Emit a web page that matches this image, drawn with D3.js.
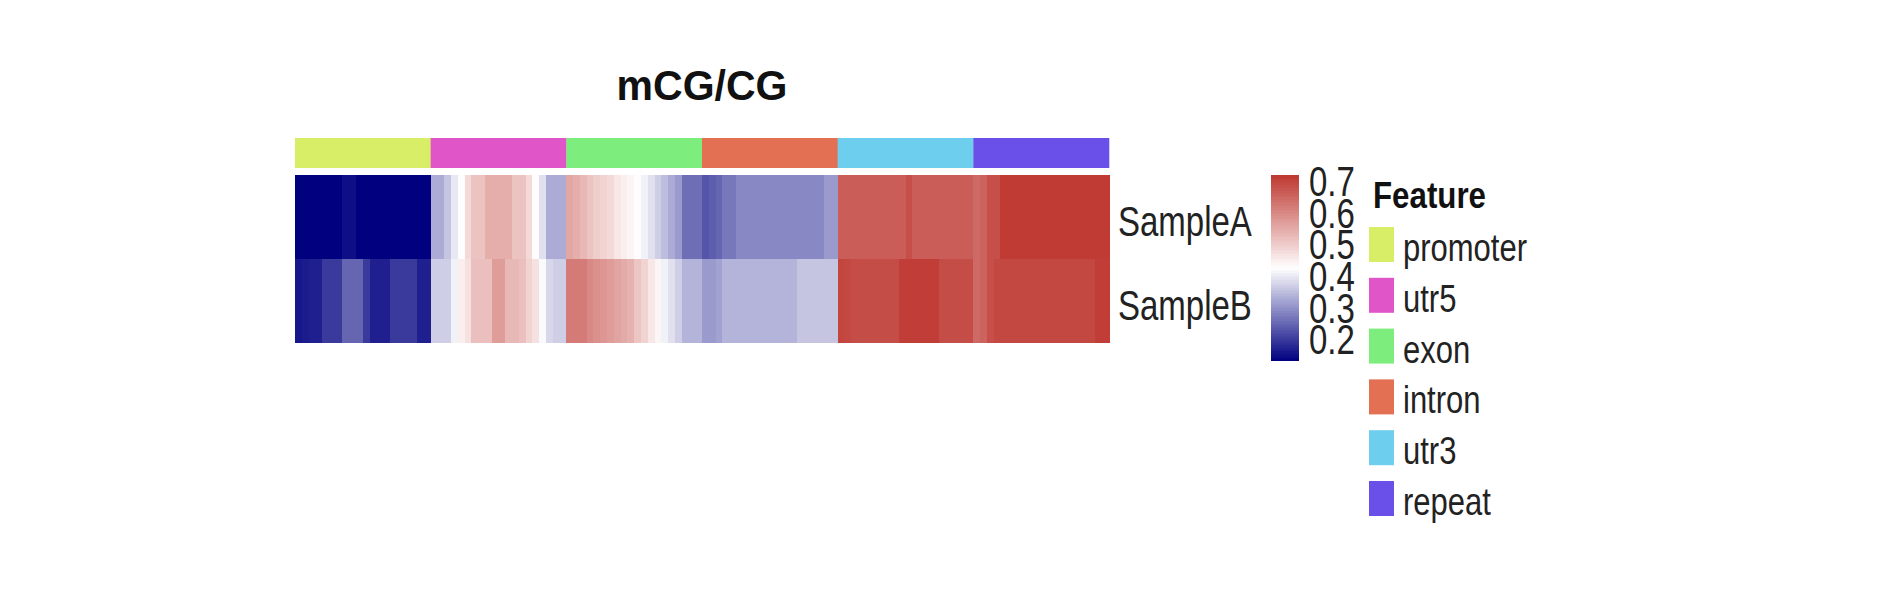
<!DOCTYPE html>
<html>
<head>
<meta charset="utf-8">
<script src="https://cdn.jsdelivr.net/npm/d3@7/dist/d3.min.js"></script>
<style>
  html, body { margin: 0; padding: 0; background: #ffffff; }
  svg { display: block; }
  text { font-family: "Liberation Sans", Arial, sans-serif; fill: #222; }
</style>
</head>
<body>
<div id="chart"></div>
<script>
// ---------------- data ----------------
const title = "mCG/CG";
const samples = ["SampleA", "SampleB"];
const features = ["promoter", "utr5", "exon", "intron", "utr3", "repeat"];
const featureColors = ["#D7EE66", "#E056C8", "#7DEE7D", "#E37052", "#6ECEEE", "#6A50E8"];
const binsPerFeature = 20;

// methylation level per bin (20 bins per feature)
const promoterA = [0.135,0.135,0.135,0.135,0.135,0.135,0.135,0.15,0.15,0.135,0.135,0.135,0.135,0.135,0.135,0.135,0.135,0.135,0.135,0.135];
const promoterB = [0.16,0.165,0.17,0.17,0.2,0.2,0.2,0.25,0.25,0.25,0.2,0.17,0.17,0.17,0.2,0.2,0.2,0.2,0.17,0.17];
const utr5A     = [0.33,0.33,0.36,0.40,0.43,0.48,0.515,0.515,0.545,0.545,0.545,0.545,0.515,0.515,0.48,0.43,0.39,0.33,0.33,0.33];
const utr5B     = [0.37,0.37,0.37,0.41,0.45,0.47,0.52,0.52,0.52,0.57,0.57,0.53,0.53,0.52,0.49,0.47,0.42,0.38,0.37,0.37];
const exonA     = [0.555,0.545,0.53,0.515,0.50,0.49,0.48,0.46,0.45,0.44,0.43,0.41,0.39,0.37,0.35,0.33,0.31,0.26,0.26,0.26];
const exonB     = [0.62,0.62,0.62,0.60,0.59,0.58,0.57,0.56,0.55,0.54,0.51,0.49,0.46,0.44,0.41,0.39,0.37,0.34,0.34,0.34];
const intronA   = [0.23,0.24,0.25,0.27,0.27,0.29,0.29,0.29,0.29,0.29,0.29,0.29,0.29,0.29,0.29,0.29,0.29,0.29,0.31,0.31];
const intronB   = [0.31,0.31,0.32,0.34,0.34,0.34,0.34,0.34,0.34,0.34,0.34,0.34,0.34,0.34,0.36,0.36,0.36,0.36,0.36,0.36];
const utr3A     = [0.665,0.665,0.665,0.665,0.665,0.665,0.665,0.665,0.665,0.665,0.685,0.665,0.665,0.665,0.665,0.665,0.665,0.665,0.665,0.665];
const utr3B     = [0.70,0.695,0.688,0.688,0.688,0.688,0.688,0.688,0.688,0.71,0.71,0.71,0.71,0.71,0.71,0.688,0.688,0.688,0.688,0.688];
const repeatA   = [0.645,0.655,0.685,0.685,0.715,0.715,0.715,0.715,0.715,0.715,0.715,0.715,0.715,0.715,0.715,0.715,0.715,0.715,0.715,0.715];
const repeatB   = [0.645,0.655,0.685,0.695,0.695,0.695,0.695,0.695,0.695,0.695,0.695,0.695,0.695,0.695,0.695,0.695,0.695,0.695,0.71,0.71];

const colorBreaks = [0.134, 0.426, 0.719];
const colorStops = ["#000080", "#FFFFFF", "#BE3831"];
const legendTicks = [0.2, 0.3, 0.4, 0.5, 0.6, 0.7];
const legendTickLabels = ["0.2", "0.3", "0.4", "0.5", "0.6", "0.7"];
const legendTitle = "Feature";

// ---------------- build table ----------------
const rowsData = {
  SampleA: [promoterA, utr5A, exonA, intronA, utr3A, repeatA],
  SampleB: [promoterB, utr5B, exonB, intronB, utr3B, repeatB]
};
const columns = [];
features.forEach((f, fi) => { for (let b = 0; b < binsPerFeature; b++) columns.push({ feature: f, fi, bin: b, id: f + "_" + b }); });
const cells = [];
samples.forEach(s => {
  columns.forEach(c => cells.push({ sample: s, col: c.id, value: rowsData[s][c.fi][c.bin] }));
});

// ---------------- layout ----------------
const W = 1879, H = 611;
const hmLeft = 295, hmRight = 1109, hmTop = 175, hmBottom = 342;
const annTop = 138, annBottom = 168;

const svg = d3.select("#chart").append("svg").attr("width", W).attr("height", H);
svg.append("rect").attr("width", W).attr("height", H).attr("fill", "#ffffff");

const x = d3.scaleBand().domain(columns.map(c => c.id)).range([hmLeft, hmRight]).padding(0);
const xf = d3.scaleBand().domain(features).range([hmLeft, hmRight]).padding(0);
const y = d3.scaleBand().domain(samples).range([hmTop, hmBottom]).padding(0);
const color = d3.scaleLinear().domain(colorBreaks).range(colorStops).interpolate(d3.interpolateRgb).clamp(true);
const featColor = d3.scaleOrdinal().domain(features).range(featureColors);

function addText(parent, opt) {
  const t = parent.append("text")
    .attr("transform", `translate(${opt.x},${opt.y}) scale(${opt.sx || 1},${opt.sy || 1})`)
    .attr("font-size", opt.size)
    .attr("font-weight", opt.weight || "normal")
    .attr("text-anchor", opt.anchor || "start")
    .text(opt.text);
  if (opt.fill) t.style("fill", opt.fill);
  return t;
}

// title
addText(svg, { x: (hmLeft + hmRight) / 2, y: 100, text: title, size: 41, sy: 1.06, weight: "bold", anchor: "middle", fill: "#111" });

// annotation bar
svg.append("g").selectAll("rect").data(features).join("rect")
  .attr("x", d => xf(d)).attr("y", annTop)
  .attr("width", xf.bandwidth() + 0.3).attr("height", annBottom - annTop)
  .attr("fill", d => featColor(d));

// heatmap
svg.append("g").attr("shape-rendering", "crispEdges").selectAll("rect").data(cells).join("rect")
  .attr("x", d => x(d.col)).attr("y", d => y(d.sample))
  .attr("width", x.bandwidth() + 0.6).attr("height", y.bandwidth() + 0.5)
  .attr("fill", d => color(d.value));

// row labels
samples.forEach(s => {
  addText(svg, { x: 1118, y: y(s) + y.bandwidth() / 2 + 19.5, text: s, size: 33, sy: 1.3, fill: "#222" });
});

// color legend
const barX = 1271, barW = 28, barTop = 175, barBottom = 360;
const ly = d3.scaleLinear().domain([colorBreaks[0], colorBreaks[2]]).range([barBottom, barTop]);
const steps = d3.range(0, 120);
const stepH = (barBottom - barTop) / steps.length;
svg.append("g").attr("shape-rendering", "crispEdges").selectAll("rect").data(steps).join("rect")
  .attr("x", barX).attr("width", barW)
  .attr("y", i => barBottom - (i + 1) * stepH).attr("height", stepH + 0.6)
  .attr("fill", i => color(colorBreaks[0] + (i + 0.5) / steps.length * (colorBreaks[2] - colorBreaks[0])));
legendTicks.forEach((v, i) => {
  addText(svg, { x: 1309, y: ly(v) + 15, text: legendTickLabels[i], size: 33, sy: 1.3, fill: "#222" });
});

// feature legend
addText(svg, { x: 1373, y: 208, text: legendTitle, size: 31.3, sy: 1.18, weight: "bold", fill: "#111" });
const keyY = d3.scaleBand().domain(features).range([227, 227 + 50.8 * features.length]).padding(0);
const keys = svg.append("g").selectAll("g").data(features).join("g");
keys.append("rect")
  .attr("x", 1369).attr("y", d => keyY(d))
  .attr("width", 25).attr("height", 35)
  .attr("fill", d => featColor(d));
features.forEach(f => {
  addText(svg, { x: 1403, y: keyY(f) + 34, text: f, size: 31, sy: 1.25, fill: "#222" });
});
</script>
</body>
</html>
